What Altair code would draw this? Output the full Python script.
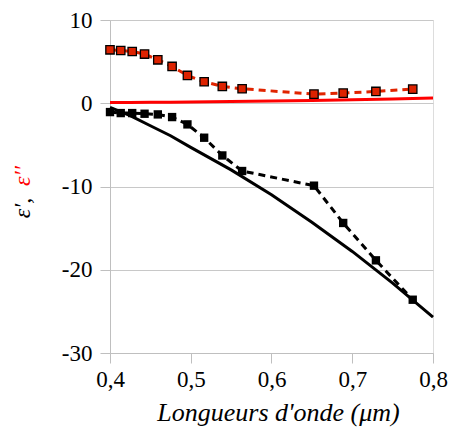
import altair as alt
import pandas as pd

# Experimental (dashed with square markers)
exp_wl = [0.400, 0.4133, 0.4275, 0.4428, 0.4592, 0.4769, 0.4959, 0.5166, 0.5391, 0.5636, 0.6526, 0.6888, 0.7293, 0.7749]
exp_eps1 = [-1.06, -1.18, -1.18, -1.26, -1.34, -1.66, -2.54, -4.14, -6.27, -8.14, -9.90, -14.38, -18.87, -23.6]
exp_eps2 = [6.42, 6.34, 6.22, 5.91, 5.22, 4.42, 3.34, 2.58, 2.02, 1.74, 1.10, 1.22, 1.42, 1.70]

# Model (solid lines)
mod_wl = [0.400, 0.425, 0.450, 0.475, 0.500, 0.550, 0.600, 0.650, 0.700, 0.750, 0.800]
mod_eps1 = [-0.5, -1.5, -2.7, -3.9, -5.3, -8.0, -11.0, -14.3, -17.8, -21.6, -25.7]
mod_eps2 = [0.08, 0.10, 0.12, 0.13, 0.15, 0.20, 0.27, 0.34, 0.42, 0.51, 0.62]

exp_df = pd.DataFrame({"wl": exp_wl, "e1": exp_eps1, "e2": exp_eps2})
mod_df = pd.DataFrame({"wl": mod_wl, "e1": mod_eps1, "e2": mod_eps2})

FONT = "Liberation Serif"

xscale = alt.Scale(domain=[0.4, 0.8], nice=False, zero=False)
yscale = alt.Scale(domain=[-30, 10], nice=False, zero=False)

xaxis = alt.Axis(
    values=[0.4, 0.5, 0.6, 0.7, 0.8],
    labelExpr="replace(format(datum.value, '.1f'), '.', ',')",
    labelFlush=False,
    grid=False, domainColor="#bfbfbf", tickColor="#bfbfbf", tickSize=10,
    labelFont=FONT, labelFontSize=23, labelColor="#000000", labelPadding=5,
    title="Longueurs d'onde (μm)", titleFont=FONT, titleFontSize=26,
    titleFontStyle="italic", titleFontWeight="normal", titleColor="#000000",
    titlePadding=8, titleX=168,
)
yaxis = alt.Axis(
    values=[-30, -20, -10, 0, 10],
    labelExpr="replace(toString(datum.value), '\u2212', '-')",
    labelFlush=False,
    grid=True, gridColor="#c8c8c8", domainColor="#bfbfbf", tickColor="#bfbfbf", tickSize=10,
    labelFont=FONT, labelFontSize=23, labelColor="#000000", labelPadding=8,
    title=None,
)

X = alt.X("wl:Q", scale=xscale, axis=xaxis)
Y1 = alt.Y("e1:Q", scale=yscale, axis=yaxis)
Y2 = alt.Y("e2:Q", scale=yscale, axis=yaxis)

base_exp = alt.Chart(exp_df)
base_mod = alt.Chart(mod_df)

mod1 = base_mod.mark_line(color="#000000", strokeWidth=3).encode(x=X, y=Y1)
mod2 = base_mod.mark_line(color="#ff0000", strokeWidth=3).encode(x=X, y=Y2)
exp1_line = base_exp.mark_line(color="#000000", strokeWidth=3, strokeDash=[7, 5]).encode(x=X, y=Y1)
exp1_pts = base_exp.mark_point(shape="square", filled=True, size=70, color="#000000", opacity=1).encode(x=X, y=Y1)
exp2_line = base_exp.mark_line(color="#e02400", strokeWidth=3, strokeDash=[7, 5]).encode(x=X, y=Y2)
exp2_pts = base_exp.mark_point(shape="square", filled=True, size=70, fill="#dd2200",
                               stroke="#000000", strokeWidth=1.3, opacity=1).encode(x=X, y=Y2)

title_df = pd.DataFrame({"t": [0]})
title_black = alt.Chart(title_df).mark_text(
    text="ε′,", angle=270, font=FONT, fontSize=24, fontStyle="italic",
    color="#000000", align="center", baseline="middle"
).encode(x=alt.value(-87), y=alt.value(188))
title_red = alt.Chart(title_df).mark_text(
    text="ε′′", angle=270, font=FONT, fontSize=24, fontStyle="italic",
    color="#ff0000", align="center", baseline="middle"
).encode(x=alt.value(-87), y=alt.value(156))

chart = alt.layer(
    mod2, exp2_line, exp2_pts, mod1, exp1_line, exp1_pts, title_black, title_red
).properties(
    width=323, height=333,
    autosize=alt.AutoSizeParams(type="none"),
    padding={"left": 110, "top": 20, "right": 17, "bottom": 89},
).configure_view(
    stroke="#bfbfbf", strokeWidth=1
).configure(
    background="#ffffff", font=FONT
)

chart.save("out.html", embed_options={"renderer": "svg", "actions": False})
